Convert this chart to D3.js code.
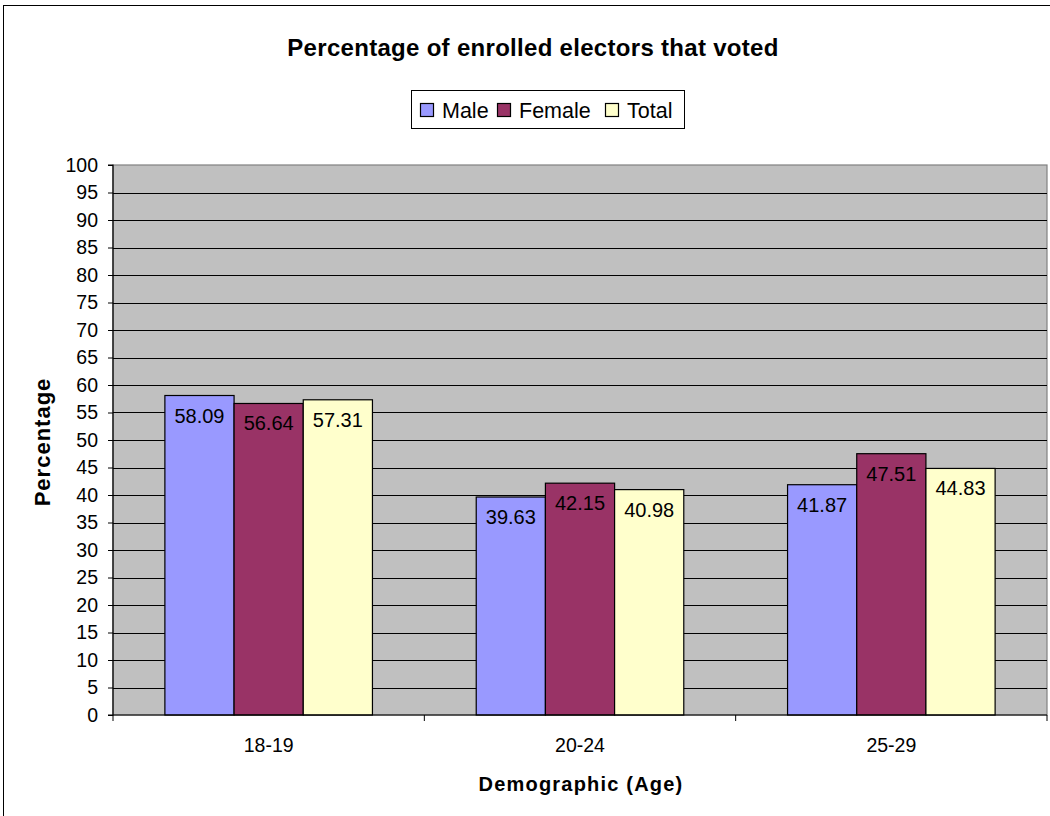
<!DOCTYPE html>
<html><head><meta charset="utf-8">
<script src="https://cdn.jsdelivr.net/npm/d3@7"></script>
<style>body{margin:0;background:#fff}svg{display:block;font-family:"Liberation Sans",Arial,sans-serif}</style>
</head><body><svg id="c" width="1050" height="816"></svg>
<script>
const categories = ["18-19", "20-24", "25-29"];
const seriesNames = ["Male", "Female", "Total"];
const male = [58.09, 39.63, 41.87];
const female = [56.64, 42.15, 47.51];
const total = [57.31, 40.98, 44.83];
const yTicks = d3.range(0, 101, 5);
const colors = ["#9999FF", "#993366", "#FFFFCC"];
const seriesValues = [male, female, total];

const svg = d3.select("#c");
const m = {left: 113, right: 1047, top: 165, bottom: 715};

// outer frame
svg.append("rect").attr("x", 3.5).attr("y", 5.5).attr("width", 1060).attr("height", 830)
  .attr("fill", "#fff").attr("stroke", "#000").attr("stroke-width", 1);

const x = d3.scaleBand().domain(categories).range([m.left, m.right]).padding(0);
const y = d3.scaleLinear().domain([0, 100]).range([m.bottom, m.top]);
const bw = x.bandwidth() / 4.5;

// plot area
svg.append("rect").attr("x", m.left).attr("y", m.top).attr("width", m.right - m.left).attr("height", m.bottom - m.top)
  .attr("fill", "#C0C0C0").attr("stroke", "#808080").attr("stroke-width", 1.2);

// gridlines
svg.append("g").selectAll("line").data(yTicks.filter(d => d > 0 && d < 100)).join("line")
  .attr("x1", m.left).attr("x2", m.right).attr("y1", d => Math.round(y(d)) + 0.5).attr("y2", d => Math.round(y(d)) + 0.5)
  .attr("stroke", "#000").attr("stroke-width", 1);

// bars
const data = [];
categories.forEach((c, i) => seriesValues.forEach((s, j) => data.push({c, j, v: s[i]})));
const g = svg.append("g");
g.selectAll("rect").data(data).join("rect")
  .attr("x", d => x(d.c) + bw * 0.75 + d.j * bw)
  .attr("y", d => y(d.v)).attr("width", bw).attr("height", d => y(0) - y(d.v))
  .attr("fill", d => colors[d.j]).attr("stroke", "#000").attr("stroke-width", 1.2);
g.selectAll("text").data(data).join("text")
  .attr("x", d => x(d.c) + bw * 0.75 + d.j * bw + bw / 2)
  .attr("y", d => y(d.v) + 27)
  .attr("text-anchor", "middle").attr("font-size", 20).attr("fill", "#000")
  .text(d => d.v.toFixed(2));

// y axis
const yAxis = d3.axisLeft(y).tickValues(yTicks).tickSize(5).tickPadding(10);
const ya = svg.append("g").attr("transform", `translate(${m.left},0)`).call(yAxis);
ya.select(".domain").attr("stroke", "#000").attr("stroke-width", 1.2).attr("d", `M-5,${m.top}H0V${m.bottom}H-5`);
ya.selectAll(".tick line").attr("stroke", "#000");
ya.selectAll("text").attr("font-size", 19.5).attr("fill", "#000").attr("font-family", "Liberation Sans, Arial, sans-serif");

// x axis
const xa = svg.append("g").attr("transform", `translate(0,${m.bottom})`);
xa.append("line").attr("x1", m.left).attr("x2", m.right).attr("stroke", "#000").attr("stroke-width", 1.2);
xa.selectAll("line.t").data([...categories.map(c => x(c)), m.right]).join("line").attr("class", "t")
  .attr("x1", d => d).attr("x2", d => d).attr("y1", 0).attr("y2", 6).attr("stroke", "#000");
xa.selectAll("text").data(categories).join("text")
  .attr("x", d => x(d) + x.bandwidth() / 2).attr("y", 37).attr("text-anchor", "middle")
  .attr("font-size", 19.5).text(d => d);

// titles
svg.append("text").attr("x", 533).attr("y", 56).attr("text-anchor", "middle")
  .attr("font-size", 24).attr("letter-spacing", 0.3).attr("font-weight", "bold").text("Percentage of enrolled electors that voted");
svg.append("text").attr("x", 581).attr("y", 791).attr("text-anchor", "middle")
  .attr("font-size", 20).attr("letter-spacing", 1.2).attr("font-weight", "bold").text("Demographic (Age)");
svg.append("text").attr("transform", "translate(50,442) rotate(-90)").attr("text-anchor", "middle")
  .attr("font-size", 22).attr("letter-spacing", 1).attr("font-weight", "bold").text("Percentage");

// legend
const lg = svg.append("g");
lg.append("rect").attr("x", 411.5).attr("y", 90.5).attr("width", 273).attr("height", 38)
  .attr("fill", "#fff").attr("stroke", "#000");
const legX = [420, 497, 605];
seriesNames.forEach((n, i) => {
  lg.append("rect").attr("x", legX[i] + 0.5).attr("y", 103.5).attr("width", 13).attr("height", 13)
    .attr("fill", colors[i]).attr("stroke", "#000").attr("stroke-width", 1.2);
  lg.append("text").attr("x", legX[i] + 22).attr("y", 118).attr("font-size", 21.5).text(n);
});
</script></body></html>
